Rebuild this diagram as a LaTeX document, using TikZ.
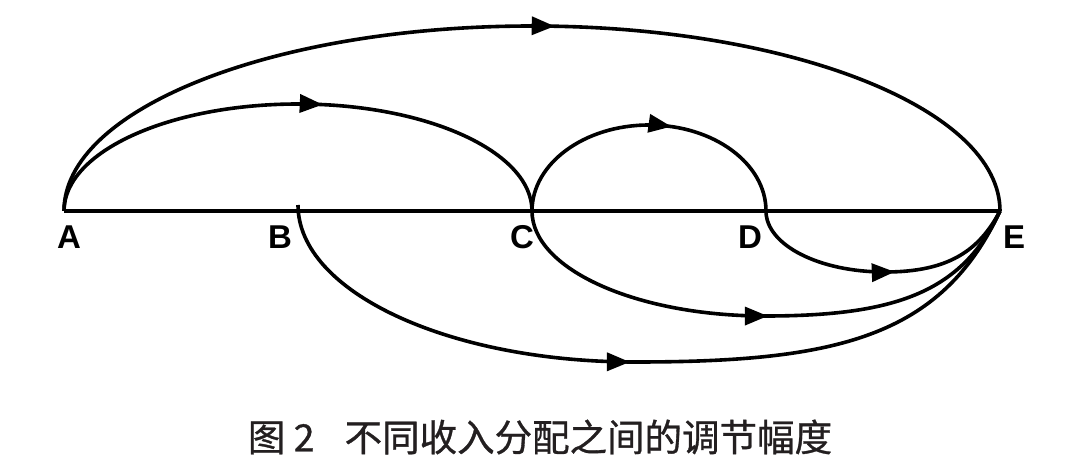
\documentclass[tikz,border=0pt]{standalone}
\usepackage{fontspec}
\newfontfamily\labfont{Liberation Sans}
\newfontfamily\cjkfont[FakeBold=0.8]{Noto Sans CJK SC}
\usetikzlibrary{arrows.meta,decorations.markings}
\definecolor{capgray}{RGB}{35,31,32}
\tikzset{
  flow/.style={line width=3.6pt, draw=black},
  tipat/.style={postaction={decorate},
    decoration={markings, mark=at position #1 with {\arrow{Triangle[length=23pt,width=18pt]}}}},
  lab/.style={font=\labfont\bfseries\fontsize{33}{33}\selectfont, inner sep=0pt, text=black},
  capstyle/.style={font=\cjkfont\fontsize{37.5}{37.5}\selectfont, inner sep=0pt, text=capgray},
}
\begin{document}
\begin{tikzpicture}[x=1pt,y=-1pt]
  \fill[white] (0,0) rectangle (1080,468);
  \useasboundingbox (0,0) rectangle (1080,468);

  % points on the axis
  \coordinate (A) at (64,211);
  \coordinate (B) at (298,211);
  \coordinate (C) at (532,211);
  \coordinate (D) at (766,211);
  \coordinate (E) at (1000,211);
  % lowest points of the lower curves
  \coordinate (deLow) at (885,272);
  \coordinate (ceLow) at (765,316);
  \coordinate (beLow) at (635,362);

  % labels
  \node[lab] (lA) at (69,237) {A};
  \node[lab] (lB) at (280,237) {B};
  \node[lab] (lC) at (522,237) {C};
  \node[lab] (lD) at (750,237) {D};
  \node[lab] (lE) at (1014,237) {E};

  % axis
  \draw[flow, line width=3.4pt] (A) -- (E);

  % upper curves
  \draw[flow, tipat=560pt] (A) arc[start angle=180, end angle=0, x radius=468pt, y radius=185pt];
  \draw[flow, tipat=302pt] (A) arc[start angle=180, end angle=0, x radius=234pt, y radius=107pt];
  \draw[flow, tipat=183pt] (C) arc[start angle=180, end angle=0, x radius=117pt, y radius=86pt];

  % lower curves
  \draw[flow, tipat=155pt] (D) .. controls +(0,34) and +(-66,0) .. (deLow)
        .. controls +(63,0) and +(-21,40) .. (E);
  \draw[flow, tipat=278pt] (C) .. controls +(0,58) and +(-129,0) .. (ceLow)
        .. controls +(129,0) and +(-38,82) .. (E);
  \draw[flow, tipat=396pt] ([yshift=6pt]B) .. controls +(0,87) and +(-186,0) .. (beLow)
        .. controls +(200,0) and +(-59,127) .. (E);

  % caption
  \node[capstyle] (cap) at (540,437) {图 2\hspace{0.8em}不同收入分配之间的调节幅度};
\end{tikzpicture}
\end{document}
